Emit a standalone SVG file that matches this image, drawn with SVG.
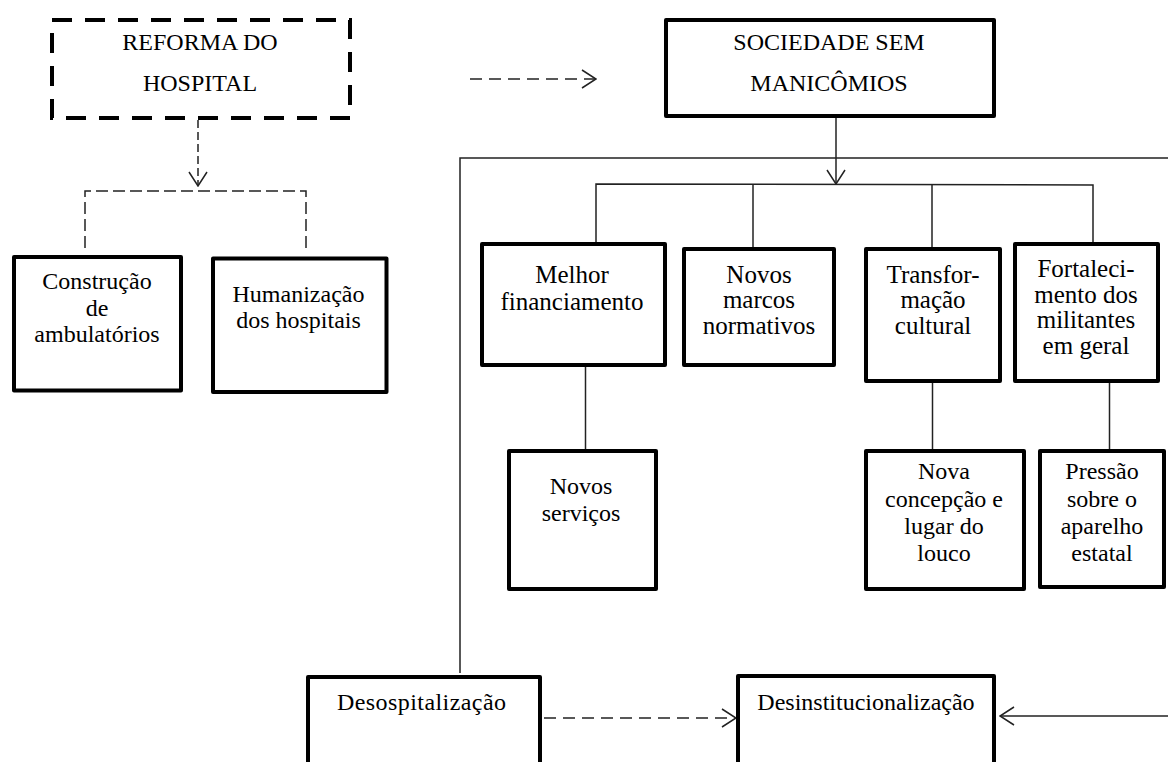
<svg xmlns="http://www.w3.org/2000/svg" width="1168" height="762" viewBox="0 0 1168 762">
<style>
.box{fill:#fff;stroke:#000;stroke-width:4;stroke-linejoin:round}
.dbox{fill:#fff;stroke:#000;stroke-width:4;stroke-dasharray:20 13}
.t{font-family:"Liberation Serif","Times New Roman",serif;font-size:24px;fill:#000;text-anchor:middle}
.m{font-size:25px}
.c{fill:none;stroke:#222;stroke-width:1.5}
.d1{stroke-dasharray:12 7}
.d2{stroke-dasharray:8 4}
.d3{stroke-dasharray:12 5}
</style>
<defs>
<marker id="ah" markerUnits="userSpaceOnUse" viewBox="0 0 16 20" refX="15" refY="10" markerWidth="16" markerHeight="20" orient="auto">
<path d="M1,1 L15,10 L1,19" fill="none" stroke="#222" stroke-width="1.5" stroke-dasharray="none"/>
</marker>
</defs>
<g id="connectors">
<line class="c d1" x1="470" y1="79" x2="596" y2="79" marker-end="url(#ah)"/>
<line class="c d2" x1="198" y1="120" x2="198" y2="186" marker-end="url(#ah)"/>
<polyline class="c d3" points="85,248 85,191 306,191 306,248"/>
<line class="c" x1="836" y1="118" x2="836" y2="184" marker-end="url(#ah)"/>
<polyline class="c" points="460,673 460,158 1168,158"/>
<polyline class="c" points="596,244 596,184 1093,185 1093,244"/>
<line class="c" x1="753" y1="184" x2="753" y2="249"/>
<line class="c" x1="932" y1="185" x2="932" y2="249"/>
<line class="c" x1="585.5" y1="367" x2="585.5" y2="451"/>
<line class="c" x1="932.5" y1="383" x2="932.5" y2="451"/>
<line class="c" x1="1109.5" y1="383" x2="1109.5" y2="451"/>
<line class="c d1" x1="544" y1="718" x2="736" y2="718" marker-end="url(#ah)"/>
<line class="c" x1="1168" y1="716" x2="1000" y2="716" marker-end="url(#ah)"/>
</g>
<g id="reforma">
<rect class="dbox" x="52" y="20" width="298" height="98"/>
<text class="t" x="200" y="50">REFORMA DO</text>
<text class="t" x="200" y="91">HOSPITAL</text>
</g>
<g id="sociedade">
<rect class="box" x="666" y="20" width="328" height="96"/>
<text class="t" x="829" y="50">SOCIEDADE SEM</text>
<text class="t" x="829" y="91">MANICÔMIOS</text>
</g>
<g id="construcao">
<rect class="box" x="14" y="257" width="167" height="133.5"/>
<text class="t" x="97" y="289">Construção</text>
<text class="t" x="97" y="316">de</text>
<text class="t" x="97" y="342">ambulatórios</text>
</g>
<g id="humanizacao">
<rect class="box" x="213" y="258.5" width="173.5" height="133.5"/>
<text class="t" x="298.5" y="301.5">Humanização</text>
<text class="t" x="298.5" y="327.5">dos hospitais</text>
</g>
<g id="melhor">
<rect class="box" x="482" y="244" width="183" height="121"/>
<text class="t m" x="572" y="283">Melhor</text>
<text class="t m" x="572" y="310">financiamento</text>
</g>
<g id="novos-marcos">
<rect class="box" x="684" y="249" width="150" height="116"/>
<text class="t m" x="759" y="283">Novos</text>
<text class="t m" x="759" y="308">marcos</text>
<text class="t m" x="759" y="334">normativos</text>
</g>
<g id="transformacao">
<rect class="box" x="866" y="249" width="134" height="132"/>
<text class="t m" x="933" y="283">Transfor-</text>
<text class="t m" x="933" y="308">mação</text>
<text class="t m" x="933" y="334">cultural</text>
</g>
<g id="fortalecimento">
<rect class="box" x="1015" y="244" width="143" height="137"/>
<text class="t m" x="1086" y="277">Fortaleci-</text>
<text class="t m" x="1086" y="302.5">mento dos</text>
<text class="t m" x="1086" y="328">militantes</text>
<text class="t m" x="1086" y="354">em geral</text>
</g>
<g id="novos-servicos">
<rect class="box" x="509" y="451" width="147" height="138"/>
<text class="t" x="581" y="494">Novos</text>
<text class="t" x="581" y="521">serviços</text>
</g>
<g id="nova-concepcao">
<rect class="box" x="866" y="451" width="158" height="138"/>
<text class="t" x="944" y="479">Nova</text>
<text class="t" x="944" y="507">concepção e</text>
<text class="t" x="944" y="534">lugar do</text>
<text class="t" x="944" y="561">louco</text>
</g>
<g id="pressao">
<rect class="box" x="1040" y="451" width="124" height="136"/>
<text class="t" x="1102" y="479">Pressão</text>
<text class="t" x="1102" y="507">sobre o</text>
<text class="t" x="1102" y="534">aparelho</text>
<text class="t" x="1102" y="561">estatal</text>
</g>
<g id="desospitalizacao">
<rect class="box" x="308" y="677" width="232" height="100"/>
<text class="t" x="421.5" y="710" textLength="169" lengthAdjust="spacing">Desospitalização</text>
</g>
<g id="desinstitucionalizacao">
<rect class="box" x="738" y="676" width="256" height="100"/>
<text class="t" x="866" y="710">Desinstitucionalização</text>
</g>
</svg>
